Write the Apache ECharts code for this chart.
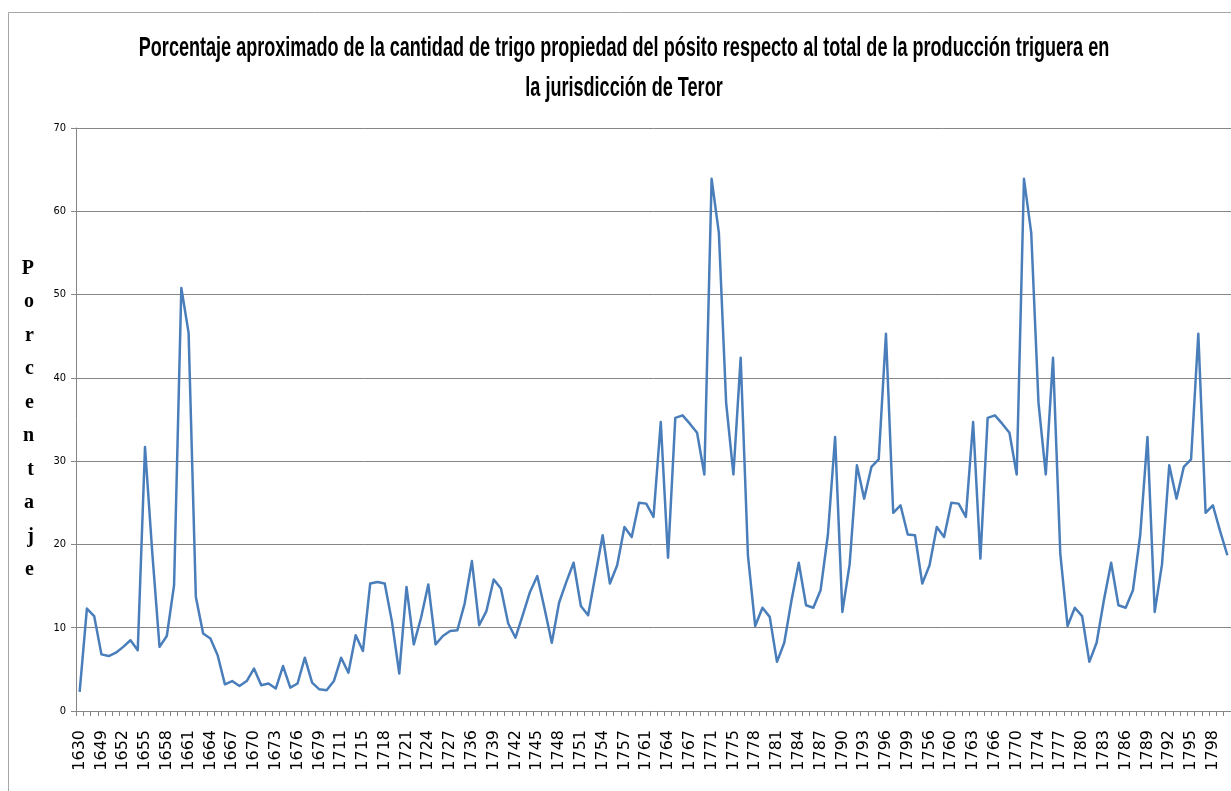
<!DOCTYPE html>
<html>
<head>
<meta charset="utf-8">
<script src="https://cdn.jsdelivr.net/npm/echarts@6/dist/echarts.min.js"></script>
<style>
  html, body { margin: 0; padding: 0; background: #fff; }
  #box { width: 1231px; height: 791px; }
</style>
</head>
<body>
<div id="box"></div>
<script>
var myChart = echarts.init(document.getElementById("box"));

// años (categorías del eje x), tal como aparecen en la hoja
var years = [
  '1630', '1647', '1648', '1649', '1650', '1651', '1652', '1653', '1654', '1655',
  '1656', '1657', '1658', '1659', '1660', '1661', '1662', '1663', '1664', '1665',
  '1666', '1667', '1668', '1669', '1670', '1671', '1672', '1673', '1674', '1675',
  '1676', '1677', '1678', '1679', '1680', '1710', '1711', '1713', '1714', '1715',
  '1716', '1717', '1718', '1719', '1720', '1721', '1722', '1723', '1724', '1725',
  '1726', '1727', '1728', '1735', '1736', '1737', '1738', '1739', '1740', '1741',
  '1742', '1743', '1744', '1745', '1746', '1747', '1748', '1749', '1750', '1751',
  '1752', '1753', '1754', '1755', '1756', '1757', '1758', '1760', '1761', '1762',
  '1763', '1764', '1765', '1766', '1767', '1768', '1770', '1771', '1772', '1774',
  '1775', '1776', '1777', '1778', '1779', '1780', '1781', '1782', '1783', '1784',
  '1785', '1786', '1787', '1788', '1789', '1790', '1791', '1792', '1793', '1794',
  '1795', '1796', '1797', '1798', '1799', '1754', '1755', '1756', '1757', '1758',
  '1760', '1761', '1762', '1763', '1764', '1765', '1766', '1767', '1768', '1770',
  '1771', '1772', '1774', '1775', '1776', '1777', '1778', '1779', '1780', '1781',
  '1782', '1783', '1784', '1785', '1786', '1787', '1788', '1789', '1790', '1791',
  '1792', '1793', '1794', '1795', '1796', '1797', '1798', '1799', '1800'
];

// porcentaje
var porcentaje = [
  2.3, 12.3, 11.4, 6.8, 6.6, 7.0, 7.7, 8.5, 7.3, 31.7,
  19.0, 7.7, 9.0, 15.1, 50.8, 45.4, 13.7, 9.3, 8.7, 6.7,
  3.2, 3.6, 3.0, 3.6, 5.1, 3.1, 3.3, 2.7, 5.4, 2.8,
  3.3, 6.4, 3.4, 2.6, 2.5, 3.6, 6.4, 4.6, 9.1, 7.2,
  15.3, 15.5, 15.3, 10.7, 4.5, 14.9, 8.0, 11.2, 15.2, 8.0,
  9.0, 9.6, 9.7, 12.9, 18.0, 10.3, 12.0, 15.8, 14.7, 10.5,
  8.8, 11.5, 14.3, 16.2, 12.3, 8.2, 13.0, 15.5, 17.8, 12.6,
  11.5, 16.3, 21.1, 15.3, 17.5, 22.1, 20.9, 25.0, 24.9, 23.3,
  34.7, 18.4, 35.2, 35.5, 34.5, 33.4, 28.4, 63.9, 57.4, 37.0,
  28.4, 42.4, 18.7, 10.2, 12.4, 11.3, 5.9, 8.2, 13.3, 17.8,
  12.7, 12.4, 14.5, 21.1, 32.9, 11.9, 17.6, 29.5, 25.5, 29.3,
  30.2, 45.3, 23.8, 24.7, 21.2, 21.1, 15.3, 17.5, 22.1, 20.9,
  25.0, 24.9, 23.3, 34.7, 18.3, 35.2, 35.5, 34.5, 33.4, 28.4,
  63.9, 57.4, 37.0, 28.4, 42.4, 18.9, 10.2, 12.4, 11.4, 5.9,
  8.2, 13.3, 17.8, 12.7, 12.4, 14.5, 21.1, 32.9, 11.9, 17.6,
  29.5, 25.5, 29.3, 30.2, 45.3, 23.8, 24.7, 21.6, 18.7
];

var tituloLinea1 = 'Porcentaje aproximado de la cantidad de trigo propiedad del pósito respecto al total de la producción triguera en';
var tituloLinea2 = 'la jurisdicción de Teror';
var nombreEjeY = 'Porcentaje';

// el original está comprimido en horizontal: se estrecha el título con scaleX
var titleFont = 'bold 28px "Liberation Sans", Arial, sans-serif';

var option = {
  backgroundColor: '#fff',
  animation: false,
  graphic: [{
    type: 'rect',
    shape: { x: 8.5, y: 12.5, width: 1240, height: 800 },
    style: { fill: 'none', stroke: '#a6a6a6', lineWidth: 1 },
    silent: true,
    z: -1
  }, {
    type: 'text',
    x: 624,
    y: 48,
    scaleX: 0.645,
    style: {
      text: tituloLinea1,
      font: titleFont,
      fill: '#000',
      align: 'center',
      verticalAlign: 'middle'
    }
  }, {
    type: 'text',
    x: 624,
    y: 88,
    scaleX: 0.645,
    style: {
      text: tituloLinea2,
      font: titleFont,
      fill: '#000',
      align: 'center',
      verticalAlign: 'middle'
    }
  }],
  grid: {
    left: 76,
    right: 0,
    top: 128,
    bottom: 80
  },
  xAxis: {
    type: 'category',
    data: years,
    boundaryGap: true,
    axisLine: { lineStyle: { color: '#868686', width: 1 } },
    axisTick: { show: true, interval: 0, length: 5, lineStyle: { color: '#868686' } },
    axisLabel: {
      interval: 2,
      rotate: 90,
      margin: 19,
      fontFamily: '"DejaVu Sans", sans-serif',
      fontSize: 16,
      color: '#000'
    },
    splitLine: { show: false }
  },
  yAxis: {
    type: 'value',
    min: 0,
    max: 70,
    interval: 10,
    name: nombreEjeY.split('').join('\n'),
    nameLocation: 'middle',
    nameRotate: 0,
    nameGap: 42,
    nameTextStyle: {
      fontFamily: '"Liberation Serif", serif',
      fontWeight: 'bold',
      fontSize: 20,
      lineHeight: 33.5,
      padding: [8, 0, 0, 0],
      color: '#000'
    },
    axisLine: { show: true, lineStyle: { color: '#868686', width: 1 } },
    axisTick: { show: true, length: 5, lineStyle: { color: '#868686' } },
    axisLabel: {
      margin: 10,
      fontFamily: '"Liberation Sans Narrow", "DejaVu Sans Condensed", sans-serif',
      fontSize: 11,
      color: '#000'
    },
    splitLine: { lineStyle: { color: '#868686', width: 1 } }
  },
  series: [{
    name: 'Porcentaje',
    type: 'line',
    data: porcentaje,
    showSymbol: false,
    symbol: 'none',
    lineStyle: { color: '#4a7ebb', width: 2.5, join: 'round' },
    itemStyle: { color: '#4a7ebb' }
  }]
};

myChart.setOption(option);
</script>
</body>
</html>
